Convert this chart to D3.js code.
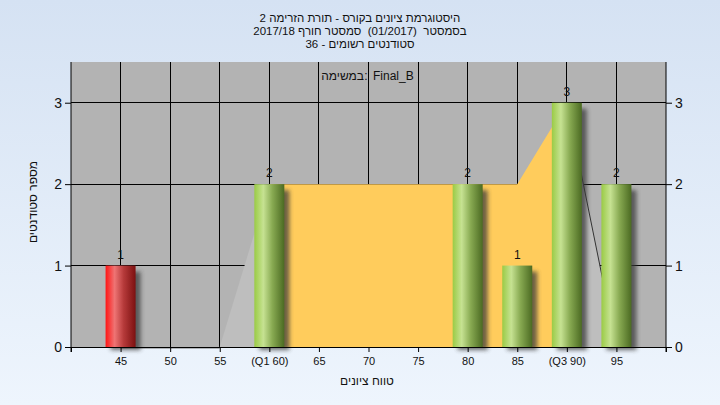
<!DOCTYPE html>
<html><head><meta charset="utf-8">
<script src="https://cdn.jsdelivr.net/npm/d3@7"></script>
<style>body{margin:0;padding:0;overflow:hidden}svg{display:block}text{white-space:pre}</style>
</head><body>
<script>
const titleLines = ["היסטוגרמת ציונים בקורס - תורת הזרימה 2", "בסמסטר  (01/2017)  סמסטר חורף 2017/18", "סטודנטים רשומים - 36"];
const legendParts = ["במשימה", ":", "Final_B"];
const xTitle = "טווח ציונים";
const yTitle = "מספר סטודנטים";
const tickValues = [45,50,55,60,65,70,75,80,85,90,95];
const tickLabels = ["45","50","55","(Q1 60)","65","70","75","80","85","(Q3 90)","95"];
const barGrades = [45,60,80,85,90,95];
const barCounts = [1,2,2,1,3,2];
const barKinds = ["red","green","green","green","green","green"];
const iqrGrades = [60,85,90];
const iqrValues = [2,2,3];
const tailLeftGrades = [55,60];
const tailLeftValues = [0,2];
const tailRightGrades = [90,95];
const tailRightValues = [3,0];
const yTicks = [0,1,2,3];

const W=720,H=405;
const L=71,R=666,T=62,B=347;
const svg=d3.select("body").append("svg").attr("width",W).attr("height",H);
const defs=svg.append("defs");
const bg=defs.append("linearGradient").attr("id","bg").attr("x1",0).attr("y1",0).attr("x2",0).attr("y2",1);
bg.append("stop").attr("offset",0).attr("stop-color","#d5e2f3");
bg.append("stop").attr("offset",1).attr("stop-color","#eef5fd");
function grad(id,stops){const g=defs.append("linearGradient").attr("id",id).attr("x1",0).attr("y1",0).attr("x2",1).attr("y2",0);
 stops.forEach(s=>g.append("stop").attr("offset",s[0]).attr("stop-color",s[1]));}
grad("green",[[0,"#9acb45"],[0.3,"#c6e292"],[0.6,"#88aa52"],[1,"#4b6a22"]]);
grad("red",[[0,"#ff1515"],[0.3,"#ef7474"],[0.6,"#b63a3a"],[1,"#7c1010"]]);
const f=defs.append("filter").attr("id","blur").attr("x","-50%").attr("y","-20%").attr("width","200%").attr("height","140%");
f.append("feGaussianBlur").attr("stdDeviation",2.2);

svg.append("rect").attr("width",W).attr("height",H).attr("fill","url(#bg)");

const x=d3.scaleLinear().domain([40,100]).range([L,R]);
const y=d3.scaleLinear().domain([0,3.5]).range([B,T]);

svg.append("rect").attr("x",L).attr("y",T).attr("width",R-L).attr("height",B-T).attr("fill","#b3b3b3");

// grid
const g=svg.append("g");
g.selectAll(".gx").data(tickValues).enter().append("line")
 .attr("x1",d=>x(d)).attr("x2",d=>x(d)).attr("y1",T).attr("y2",B).attr("stroke","#000").attr("stroke-width",1).attr("shape-rendering","crispEdges");
g.selectAll(".gy").data(yTicks.filter(d=>d>0)).enter().append("line")
 .attr("x1",L).attr("x2",R).attr("y1",d=>y(d)).attr("y2",d=>y(d)).attr("stroke","#000").attr("stroke-width",1).attr("shape-rendering","crispEdges");

// areas
const area=d3.area().x(d=>x(d[0])).y0(y(0)).y1(d=>y(d[1]));
svg.append("path").datum(d3.zip(tailLeftGrades,tailLeftValues)).attr("d",area).attr("fill","#bebebe");
svg.append("path").datum(d3.zip(tailRightGrades,tailRightValues)).attr("d",area).attr("fill","#bebebe");
svg.append("path").datum(d3.zip(tailRightGrades,tailRightValues)).attr("d",d3.line().x(d=>x(d[0])).y(d=>y(d[1]))).attr("fill","none").attr("stroke","#333").attr("stroke-width",1);
svg.append("line").attr("x1",x(45)).attr("x2",x(55)).attr("y1",B+1).attr("y2",B+1).attr("stroke","#777");
svg.append("path").datum(d3.zip(iqrGrades,iqrValues)).attr("d",area).attr("fill","#ffcc5c");

// bars
const bw=30;
const bars=d3.zip(barGrades,barCounts,barKinds);
svg.selectAll(".sh").data(bars).enter().append("rect")
 .attr("x",d=>x(d[0])-bw/2+5).attr("y",d=>y(d[1])+6).attr("width",bw).attr("height",d=>B-y(d[1])-3)
 .attr("fill","#3a3a3a").attr("opacity",0.75).attr("filter","url(#blur)");
svg.selectAll(".bar").data(bars).enter().append("rect")
 .attr("x",d=>x(d[0])-bw/2).attr("y",d=>y(d[1])).attr("width",bw).attr("height",d=>B-y(d[1]))
 .attr("fill",d=>`url(#${d[2]})`);
svg.selectAll(".bl").data(bars).enter().append("text")
 .attr("x",d=>x(d[0])).attr("y",d=>y(d[1])-7).attr("text-anchor","middle")
 .attr("font-family","Liberation Sans, Arial").attr("font-size",12).attr("fill","#111").text(d=>d[1]);

// axes
const fam="Liberation Sans, Arial, sans-serif";
const ax=svg.append("g").attr("transform",`translate(0,${B})`).call(d3.axisBottom(x).tickValues([40,...tickValues,100]).tickFormat(d=>{const i=tickValues.indexOf(d);return i<0?"":tickLabels[i];}).tickSize(5).tickPadding(5));
ax.select(".domain").attr("stroke","#000");
ax.selectAll("text").attr("font-family",fam).attr("font-size",11).attr("fill","#111");
const ayl=svg.append("g").attr("transform",`translate(${L},0)`).call(d3.axisLeft(y).tickValues(yTicks).tickFormat(d3.format("d")).tickSize(6).tickPadding(3));
ayl.select(".domain").attr("d",`M0,${T}V${B+5}`).attr("stroke","#000");
ayl.selectAll("text").attr("font-family",fam).attr("font-size",14).attr("fill","#111");
const ayr=svg.append("g").attr("transform",`translate(${R},0)`).call(d3.axisRight(y).tickValues(yTicks).tickFormat(d3.format("d")).tickSize(6).tickPadding(3));
ayr.select(".domain").attr("d",`M0,${T}V${B+5}`).attr("stroke","#000");
ayr.selectAll("text").attr("font-family",fam).attr("font-size",14).attr("fill","#111");

// texts
svg.selectAll(".title").data(titleLines).enter().append("text")
 .attr("x",360).attr("y",(d,i)=>22+i*13).attr("text-anchor","middle").attr("font-family",fam).attr("font-size",11.5).attr("fill","#111").text(d=>d);
const lg=svg.append("g").attr("font-family",fam).attr("font-size",12).attr("fill","#111");
lg.append("text").attr("x",364).attr("y",80).attr("text-anchor","end").text(legendParts[0]);
lg.append("text").attr("x",366).attr("y",80).attr("text-anchor","middle").text(legendParts[1]);
lg.append("text").attr("x",373).attr("y",80).attr("text-anchor","start").text(legendParts[2]);
svg.append("text").attr("x",367).attr("y",385).attr("text-anchor","middle").attr("font-family",fam).attr("font-size",12).attr("fill","#111").text(xTitle);
svg.append("text").attr("transform","translate(37,202) rotate(-90)").attr("text-anchor","middle").attr("font-family",fam).attr("font-size",12).attr("fill","#111").text(yTitle);
</script>
</body></html>
